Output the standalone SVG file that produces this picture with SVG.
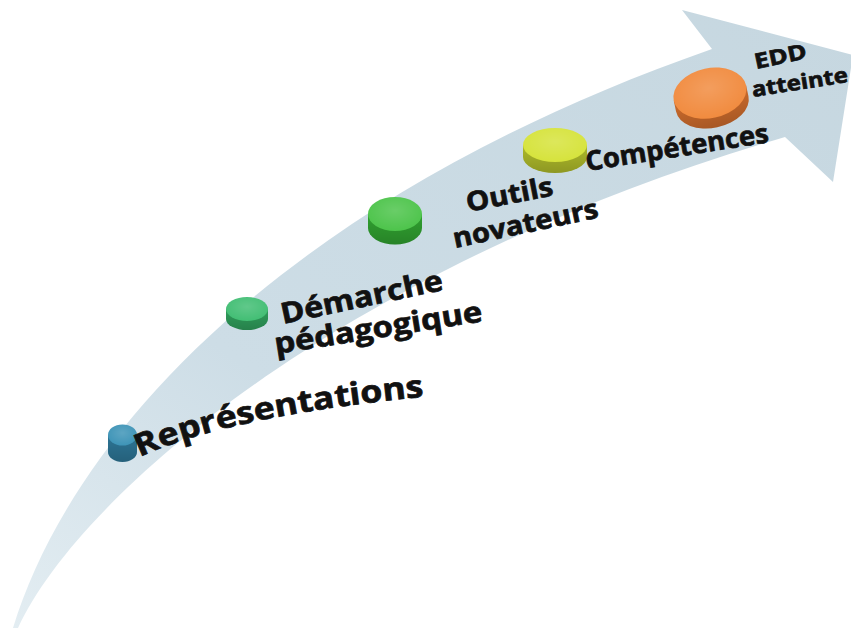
<svg xmlns="http://www.w3.org/2000/svg" width="851" height="630" viewBox="0 0 851 630">
  <defs>
    <linearGradient id="bandFill" x1="0" y1="1" x2="1" y2="0">
      <stop offset="0" stop-color="#e3edf2"/>
      <stop offset="0.35" stop-color="#cddde6"/>
      <stop offset="1" stop-color="#c6d7e0"/>
    </linearGradient>
    <radialGradient id="topGlow" cx="0.5" cy="0.4" r="0.6">
      <stop offset="0" stop-color="#ffffff" stop-opacity="0.16"/>
      <stop offset="1" stop-color="#ffffff" stop-opacity="0"/>
    </radialGradient>
    <linearGradient id="sideShade" x1="0" y1="0" x2="0" y2="1">
      <stop offset="0" stop-color="#000000" stop-opacity="0"/>
      <stop offset="1" stop-color="#000000" stop-opacity="0.18"/>
    </linearGradient>
    <path id="arcRep" d="M140,457 Q230,415 440,395"/>
    <style>
      .lbl { font-family: "Open Sans", "Liberation Sans", sans-serif; font-weight: 700; fill: #111; stroke: #111; stroke-width: 0.7; }
    </style>
  </defs>

  <rect width="851" height="630" fill="#ffffff"/>

  <!-- curved progress arrow -->
  <g id="connectors">
    <path id="arrow" fill="url(#bandFill)"
      d="M13,628 C70,440 280,200 712,49 L682,10 L853,55 L833,182 L785,137 C355,262 82,490 18,628 Z"/>
  </g>

  <!-- stage markers (disc + label) -->
  <g id="node-representations">
    <path d="M108,435 L108,452 A14.5,10 0 0 0 137,452 L137,435 Z" fill="#2d7595"/>
    <path d="M108,435 L108,452 A14.5,10 0 0 0 137,452 L137,435 Z" fill="url(#sideShade)"/>
    <ellipse cx="122.5" cy="435" rx="14.5" ry="10.5" fill="#3e94b7"/>
    <ellipse cx="122.5" cy="435" rx="14.5" ry="10.5" fill="url(#topGlow)"/>
    <text class="lbl" font-size="31"><textPath href="#arcRep" textLength="292" lengthAdjust="spacingAndGlyphs">Représentations</textPath></text>
  </g>

  <g id="node-demarche">
    <path d="M226,309 L226,319 A21,11 0 0 0 268,319 L268,309 Z" fill="#2f9d5b"/>
    <path d="M226,309 L226,319 A21,11 0 0 0 268,319 L268,309 Z" fill="url(#sideShade)"/>
    <ellipse cx="247" cy="309" rx="21" ry="12" fill="#42be74"/>
    <ellipse cx="247" cy="309" rx="21" ry="12" fill="url(#topGlow)"/>
    <text class="lbl" font-size="29" x="283" y="324" textLength="165" lengthAdjust="spacingAndGlyphs" transform="rotate(-12 283 324)">Démarche</text>
    <text class="lbl" font-size="29" x="276" y="354" textLength="210" lengthAdjust="spacingAndGlyphs" transform="rotate(-9 276 354)">pédagogique</text>
  </g>

  <g id="node-outils">
    <path d="M368,214 L368,228 A27,16.5 0 0 0 422,228 L422,214 Z" fill="#30a030"/>
    <path d="M368,214 L368,228 A27,16.5 0 0 0 422,228 L422,214 Z" fill="url(#sideShade)"/>
    <ellipse cx="395" cy="214" rx="27" ry="17" fill="#4dc44b"/>
    <ellipse cx="395" cy="214" rx="27" ry="17" fill="url(#topGlow)"/>
    <text class="lbl" font-size="27" x="468" y="212" textLength="88" lengthAdjust="spacingAndGlyphs" transform="rotate(-11 468 212)">Outils</text>
    <text class="lbl" font-size="27" x="455" y="248" textLength="148" lengthAdjust="spacingAndGlyphs" transform="rotate(-12 455 248)">novateurs</text>
  </g>

  <g id="node-competences">
    <path d="M523,145 L523,157 A32,16 0 0 0 587,157 L587,145 Z" fill="#adb92a"/>
    <path d="M523,145 L523,157 A32,16 0 0 0 587,157 L587,145 Z" fill="url(#sideShade)"/>
    <ellipse cx="555" cy="145" rx="32" ry="17" fill="#d6e33c"/>
    <ellipse cx="555" cy="145" rx="32" ry="17" fill="url(#topGlow)"/>
    <text class="lbl" font-size="27" x="587" y="171" textLength="185" lengthAdjust="spacingAndGlyphs" transform="rotate(-9 587 171)">Compétences</text>
  </g>

  <g id="node-edd">
    <g transform="rotate(-12 711 98)">
      <path d="M674,93 L674,104 A37,24 0 0 0 748,104 L748,93 Z" fill="#cc6b2c"/>
      <path d="M674,93 L674,104 A37,24 0 0 0 748,104 L748,93 Z" fill="url(#sideShade)"/>
      <ellipse cx="711" cy="93" rx="37" ry="25" fill="#f18b3f"/>
      <ellipse cx="711" cy="93" rx="37" ry="25" fill="url(#topGlow)"/>
    </g>
    <text class="lbl" font-size="21" x="756" y="69" textLength="53" lengthAdjust="spacingAndGlyphs" transform="rotate(-12 756 69)">EDD</text>
    <text class="lbl" font-size="21" x="753" y="97" textLength="97" lengthAdjust="spacingAndGlyphs" transform="rotate(-9 753 97)">atteinte</text>
  </g>
</svg>
